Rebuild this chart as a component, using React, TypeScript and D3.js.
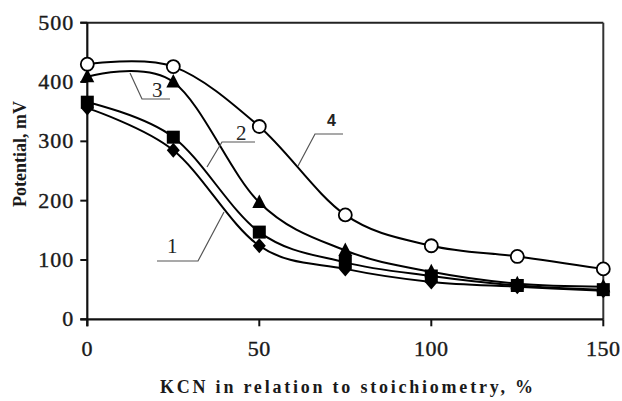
import React from "react";
import * as d3 from "d3";

const xValues = [0, 25, 50, 75, 100, 125, 150];
const series1 = [356, 285, 124, 85, 63, 55, 48];
const series2 = [366, 307, 147, 96, 73, 57, 50];
const series3 = [409, 400, 197, 116, 80, 60, 55];
const series4 = [430, 426, 325, 176, 124, 106, 85];
const xTicks = [0, 50, 100, 150];
const yTicks = [0, 100, 200, 300, 400, 500];

const W = 622, H = 401;
const L = 87.3, R = 603.3, T = 22.7, B = 319.3;

export default function App() {
  const x = d3.scaleLinear().domain([0, 150]).range([L, R]);
  const y = d3.scaleLinear().domain([0, 500]).range([B, T]);
  const line = d3
    .line<number>()
    .x((_, i) => x(xValues[i]))
    .y((d) => y(d))
    .curve(d3.curveCardinal.tension(0));

  const all = [series1, series2, series3, series4];
  const s = 6.5;
  const marker = (k: number, cx: number, cy: number, key: string) => {
    if (k === 0)
      return <path key={key} d={`M${cx},${cy - 7.5}L${cx + 6.5},${cy}L${cx},${cy + 7.5}L${cx - 6.5},${cy}Z`} fill="#000" />;
    if (k === 1)
      return <rect key={key} x={cx - s} y={cy - s} width={2 * s} height={2 * s} fill="#000" />;
    if (k === 2)
      return <path key={key} d={`M${cx},${cy - 8}L${cx + 7},${cy + 5.5}L${cx - 7},${cy + 5.5}Z`} fill="#000" />;
    return <circle key={key} cx={cx} cy={cy} r={6.5} fill="#fff" stroke="#000" strokeWidth={1.8} />;
  };

  const serif = "'Liberation Serif', 'Times New Roman', serif";
  return (
    <svg width={W} height={H} style={{ position: "absolute", left: 0, top: 0, background: "#fff" }}>
      {/* frame */}
      <line x1={L - 7} x2={R} y1={T} y2={T} stroke="#222" strokeWidth={2} />
      <line x1={R} x2={R} y1={T} y2={B} stroke="#333" strokeWidth={2} />
      {/* axes */}
      <line x1={L} x2={L} y1={T} y2={B + 7} stroke="#111" strokeWidth={2.2} />
      <line x1={L - 7} x2={R} y1={B} y2={B} stroke="#111" strokeWidth={2.2} />
      {yTicks.map((t) => (
        <g key={"y" + t}>
          <line x1={L - 7} x2={L} y1={y(t)} y2={y(t)} stroke="#111" strokeWidth={2} />
          <text x={L - 13} y={y(t) + 7} textAnchor="end" fontFamily={serif} fontSize={22} letterSpacing={1}
            fill="#1a1a1a" stroke="#1a1a1a" strokeWidth={0.4}>
            {t}
          </text>
        </g>
      ))}
      {xTicks.map((t) => (
        <g key={"x" + t}>
          <line x1={x(t)} x2={x(t)} y1={B} y2={B + 7} stroke="#111" strokeWidth={2} />
          <text x={x(t)} y={B + 37} textAnchor="middle" fontFamily={serif} fontSize={22} letterSpacing={0.5}
            fill="#1a1a1a" stroke="#1a1a1a" strokeWidth={0.4}>
            {t}
          </text>
        </g>
      ))}
      {/* axis titles */}
      <text
        x={160}
        y={393}
        fontFamily={serif}
        fontWeight="bold"
        fontSize={18}
        textLength={373}
        lengthAdjust="spacing"
        fill="#1a1a1a"
      >
        KCN in relation to stoichiometry, %
      </text>
      <text
        transform="translate(26,154) rotate(-90)"
        textAnchor="middle"
        fontFamily={serif}
        fontWeight="bold"
        fontSize={18}
        fill="#1a1a1a"
      >
        Potential, mV
      </text>
      {/* lines */}
      {all.map((d, k) => (
        <path key={"l" + k} d={line(d) || ""} fill="none" stroke="#000" strokeWidth={2} />
      ))}
      {all.map((d, k) => d.map((v, i) => marker(k, x(xValues[i]), y(v), `m${k}-${i}`)))}
      {/* leader lines and labels */}
      <polyline points="157,261 198,261 224,212" fill="none" stroke="#555" strokeWidth={1.2} />
      <text x={167} y={253} fontFamily={serif} fontSize={21} fill="#222">1</text>
      <polyline points="207,167 222,142 255,142" fill="none" stroke="#555" strokeWidth={1.2} />
      <text x={236} y={140} fontFamily={serif} fontSize={21} fill="#222">2</text>
      <polyline points="130,73 142,99 170,99" fill="none" stroke="#555" strokeWidth={1.2} />
      <text x={152} y={97} fontFamily={serif} fontSize={21} fill="#222">3</text>
      <polyline points="298,166 315,134 343,134" fill="none" stroke="#555" strokeWidth={1.2} />
      <text x={327} y={126} fontFamily="'Liberation Sans', Arial, sans-serif" fontWeight="bold" fontSize={16} fill="#222">4</text>
    </svg>
  );
}
